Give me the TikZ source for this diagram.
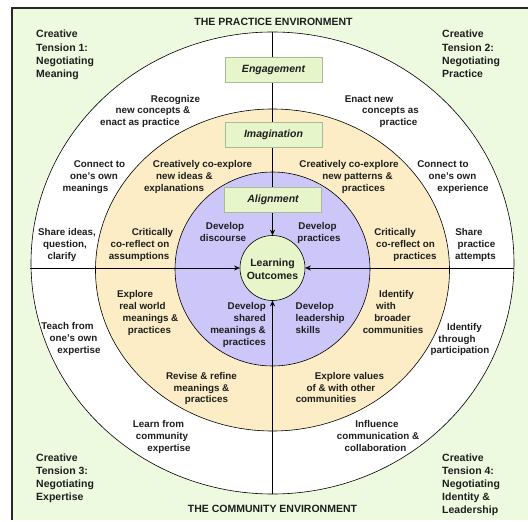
\documentclass[tikz,border=0pt]{standalone}
\usepackage{fontspec}
\setmainfont{Liberation Sans}
\usetikzlibrary{arrows.meta}
\definecolor{bggreen}{RGB}{237,250,223}
\definecolor{ringyellow}{RGB}{252,237,198}
\definecolor{ringpurple}{RGB}{204,198,249}
\definecolor{boxgreen}{RGB}{230,245,202}
\definecolor{boxline}{RGB}{170,186,150}
\definecolor{frameline}{RGB}{40,40,40}
\definecolor{txt}{RGB}{30,30,30}
\newcommand\LC[4]{\node[lbl,anchor=base] (#1) at (#2,#3) {#4};}
\newcommand\LW[4]{\node[lbl,anchor=base west] (#1) at (#2,#3) {#4};}
\newcommand\LE[4]{\node[lbl,anchor=base east] (#1) at (#2,#3) {#4};}
\newcommand\TW[4]{\node[tens,anchor=base west] (#1) at (#2,#3) {#4};}
\begin{document}
\begin{tikzpicture}[x=1pt,y=-1pt,
  lbl/.style={inner sep=0pt,text=txt,font=\fontsize{9.8}{11.8}\selectfont\bfseries},
  tens/.style={inner sep=0pt,text=txt,font=\fontsize{10.5}{13}\selectfont\bfseries},
  ttl/.style={inner sep=0pt,anchor=base,text=txt,font=\fontsize{10.5}{13}\selectfont\bfseries},
  ring/.style={draw=black,line width=0.6pt},
  phase/.style={draw=boxline,fill=boxgreen,line width=0.5pt,minimum width=97pt,minimum height=25pt,inner sep=0pt,text=txt,font=\fontsize{10.5}{13}\selectfont\bfseries\itshape},
  axis/.style={draw=black,line width=0.6pt,-{Stealth[length=5.5pt,width=5pt]}}
]
\useasboundingbox (0,0) rectangle (528,522);
% background and frame
\fill[bggreen] (12,8) rectangle (528,520);
\draw[frameline,line width=1.2pt] (12,520) -- (12,8) -- (528,8);
% rings
\filldraw[ring,fill=white] (272.5,263) ellipse [x radius=241.5pt,y radius=231pt];
\filldraw[ring,fill=ringyellow] (272.5,270) ellipse [x radius=177pt,y radius=161pt];
\filldraw[ring,fill=ringpurple] (272.5,269) ellipse [x radius=97.5pt,y radius=97pt];
% center
\node[circle,draw=black,line width=0.6pt,fill=boxgreen,minimum size=65pt,inner sep=0pt] (lo) at (272.5,268) {};
% axis ends
\coordinate (ptop) at (272.5,32);
\coordinate (pbot) at (272.5,494);
\coordinate (pleft) at (30,268);
\coordinate (pright) at (514,268);
\draw[axis] (ptop) -- (lo);
\draw[axis] (pbot) -- (lo);
\draw[axis] (pleft) -- (lo);
\draw[axis] (pright) -- (lo);
% phase boxes
\node[phase] (eng) at (273.5,70) {Engagement};
\node[phase] (ima) at (273.5,135) {Imagination};
\node[phase] (ali) at (273,199.5) {Alignment};
% center text
\node[ttl] (lo1) at (272.5,266.5) {Learning};
\node[ttl] (lo2) at (272.5,279.5) {Outcomes};
% titles
\node[ttl] (tp) at (273.5,25) {THE PRACTICE ENVIRONMENT};
\node[ttl] (tc) at (272.5,512) {THE COMMUNITY ENVIRONMENT};
% creative tensions
\TW{ta1}{36}{37.7}{Creative}
\TW{ta2}{36}{51}{Tension 1:}
\TW{ta3}{36}{64.3}{Negotiating}
\TW{ta4}{36}{77.6}{Meaning}
\TW{tb1}{442}{37.7}{Creative}
\TW{tb2}{442}{51}{Tension 2:}
\TW{tb3}{442}{64.3}{Negotiating}
\TW{tb4}{442}{77.6}{Practice}
\TW{tc1}{36}{461.5}{Creative}
\TW{tc2}{36}{474.6}{Tension 3:}
\TW{tc3}{36}{487.7}{Negotiating}
\TW{tc4}{36}{500.8}{Expertise}
\TW{td1}{442}{461.5}{Creative}
\TW{td2}{442}{474.4}{Tension 4:}
\TW{td3}{442}{487.3}{Negotiating}
\TW{td4}{442}{500.2}{Identity \&}
\TW{td5}{442}{513.1}{Leadership}
% outer ring, top
\LC{r1a}{175.5}{102.5}{Recognize}
\LC{r1b}{153}{113.5}{new concepts \&}
\LC{r1c}{140}{125.5}{enact as practice}
\LC{r2a}{369}{102.5}{Enact new}
\LC{r2b}{390.5}{113.5}{concepts as}
\LC{r2c}{398.5}{125.5}{practice}
\LC{r3a}{99.5}{167.5}{Connect to}
\LC{r3b}{94}{179.5}{one's own}
\LC{r3c}{85.5}{191.5}{meanings}
\LC{r4a}{443}{167.5}{Connect to}
\LC{r4b}{452.5}{179.5}{one's own}
\LC{r4c}{463}{191.5}{experience}
% yellow ring, top
\LC{r5a}{202.5}{167.5}{Creatively co-explore}
\LC{r5b}{184.5}{179.5}{new ideas \&}
\LC{r5c}{174}{191.5}{explanations}
\LC{r6a}{349}{167.5}{Creatively co-explore}
\LC{r6b}{357.5}{179.5}{new patterns \&}
\LC{r6c}{363.5}{191.5}{practices}
% middle band
\LC{r7a}{67}{235.5}{Share ideas,}
\LC{r7b}{65}{247.5}{question,}
\LC{r7c}{62}{259.5}{clarify}
\LC{r8a}{152.5}{235.5}{Critically}
\LC{r8b}{140}{247.5}{co-reflect on}
\LC{r8c}{139}{259.5}{assumptions}
\LC{r9a}{225}{229.5}{Develop}
\LC{r9b}{223}{241}{discourse}
\LC{r10a}{317.5}{229.5}{Develop}
\LC{r10b}{319}{241}{practices}
\LC{r11a}{395}{235.5}{Critically}
\LC{r11b}{405.5}{247.5}{co-reflect on}
\LC{r11c}{415}{259.5}{practices}
\LC{r12a}{469}{235.5}{Share}
\LC{r12b}{476.5}{247.5}{practice}
\LC{r12c}{475.5}{259.5}{attempts}
% lower band
\LC{r13a}{135}{297.5}{Explore}
\LC{r13b}{142.5}{309.5}{real world}
\LC{r13c}{150.5}{321.5}{meanings \&}
\LC{r13d}{149.5}{333.5}{practices}
\LC{r14a}{67.5}{329.5}{Teach from}
\LC{r14b}{73.5}{341.5}{one's own}
\LC{r14c}{79}{353.5}{expertise}
\LE{r15a}{266}{309.5}{Develop}
\LE{r15b}{266}{321.5}{shared}
\LE{r15c}{266}{333.5}{meanings \&}
\LE{r15d}{266}{345.5}{practices}
\LW{r16a}{295.5}{309.5}{Develop}
\LW{r16b}{295.5}{321.5}{leadership}
\LW{r16c}{295.5}{333.5}{skills}
\LC{r17a}{396.5}{297.5}{Identify}
\LC{r17b}{386}{309.5}{with}
\LC{r17c}{392.5}{321.5}{broader}
\LC{r17d}{393}{333.5}{communities}
\LC{r18a}{464.5}{330.5}{Identify}
\LC{r18b}{457}{342}{through}
\LC{r18c}{460}{353.5}{participation}
% yellow ring, bottom
\LC{r19a}{201.5}{379.5}{Revise \& refine}
\LC{r19b}{201.5}{391}{meanings \&}
\LC{r19c}{206.5}{402.5}{practices}
\LC{r20a}{349.5}{379.5}{Explore values}
\LC{r20b}{341}{391}{of \& with other}
\LC{r20c}{326}{402.5}{communities}
% outer ring, bottom
\LC{r21a}{158.5}{427.5}{Learn from}
\LC{r21b}{162}{439.5}{community}
\LC{r21c}{169}{451.5}{expertise}
\LC{r22a}{377}{427.5}{Influence}
\LC{r22b}{378}{439.5}{communication \&}
\LC{r22c}{375.5}{451.5}{collaboration}
\end{tikzpicture}
\end{document}
